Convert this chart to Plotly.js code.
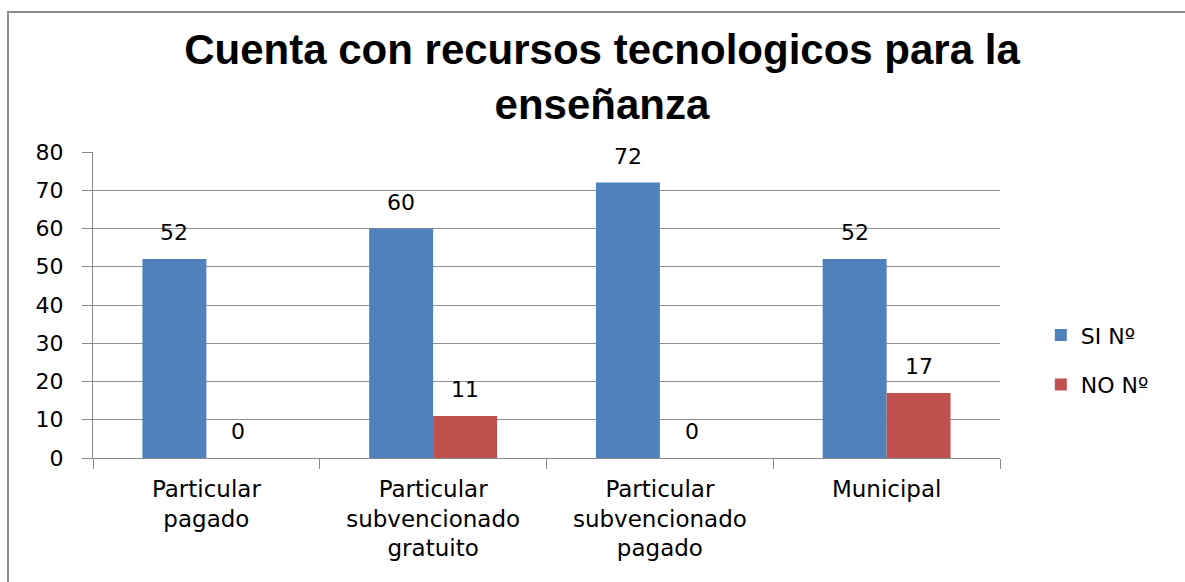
<!DOCTYPE html>
<html>
<head>
<meta charset="utf-8">
<script src="https://cdn.plot.ly/plotly-3.0.1.min.js"></script>
<style>
  body { margin: 0; background: #fff; }
  #chart { width: 1185px; height: 582px; }
  #frame { position: absolute; left: 7px; top: 11px; width: 1200px; height: 600px;
           border: 2px solid #8c8c8c; pointer-events: none; }
</style>
</head>
<body>
<div id="chart"></div>
<div id="frame"></div>
<script>
// data
const categories = [
    'Particular<br>pagado',
    'Particular<br>subvencionado<br>gratuito',
    'Particular<br>subvencionado<br>pagado',
    'Municipal'
];
const siValues = [52, 60, 72, 52];
const noValues = [0, 11, 0, 17];
const seriesNames = ['SI Nº', 'NO Nº'];
const yTicks = [0, 10, 20, 30, 40, 50, 60, 70, 80];

const colors = ['#4F81BD', '#C0504D'];
const labelFont = {family: 'DejaVu Sans', size: 22, color: '#000'};

const traces = [siValues, noValues].map((vals, i) => ({
    type: 'bar',
    name: seriesNames[i],
    x: categories,
    y: vals,
    legendgroup: 'g' + i,
    marker: {color: colors[i]},
    hoverinfo: 'y'
}));

// value labels above each bar, shifted to its half of the group
const annotations = [];
[siValues, noValues].forEach((vals, i) => {
    vals.forEach((v, j) => {
        annotations.push({
            x: categories[j], y: v, text: String(v),
            showarrow: false, yanchor: 'bottom', yshift: 12,
            xshift: i === 0 ? -32 : 32,
            font: labelFont
        });
    });
});

const layout = {
    width: 1185, height: 582,
    margin: {l: 93, r: 185, t: 152, b: 124},
    paper_bgcolor: '#fff', plot_bgcolor: '#fff',
    title: {
        text: 'Cuenta con recursos tecnologicos para la<br>enseñanza',
        font: {family: 'Liberation Sans', size: 42, color: '#000', weight: 'bold'},
        x: 0.508, xanchor: 'center',
        y: 0.89, yanchor: 'top'
    },
    barmode: 'group',
    bargap: 0.436, bargroupgap: 0,
    xaxis: {
        type: 'category',
        showline: true, linecolor: '#888', linewidth: 1,
        ticks: 'outside', tickson: 'boundaries', ticklen: 10, tickcolor: '#888',
        ticklabelstandoff: 10,
        tickfont: {family: 'DejaVu Sans', size: 23, color: '#000'},
        showgrid: false
    },
    yaxis: {
        range: [0, 80], tickvals: yTicks,
        showline: true, linecolor: '#888', linewidth: 1,
        ticks: 'outside', ticklen: 10, tickcolor: '#888',
        ticklabelstandoff: 14,
        tickfont: labelFont,
        showgrid: true, gridcolor: '#8f8f8f', gridwidth: 1,
        zeroline: false
    },
    legend: {
        x: 1.045, xanchor: 'left', y: 0.47, yanchor: 'top',
        font: {family: 'DejaVu Sans', size: 22, color: '#000'},
        traceorder: 'grouped', tracegroupgap: 18,
        bgcolor: 'rgba(0,0,0,0)'
    },
    annotations: annotations,
    showlegend: true
};

Plotly.newPlot('chart', traces, layout, {displayModeBar: false, staticPlot: true});
</script>
</body>
</html>
